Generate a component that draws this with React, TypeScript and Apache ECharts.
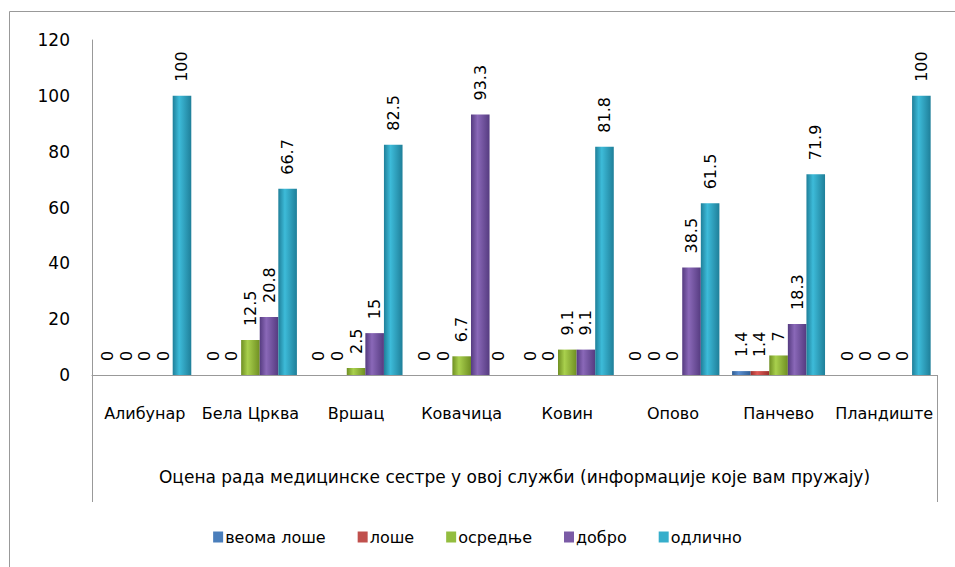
import React, { useEffect, useRef } from "react";
import * as echarts from "echarts";

const categories = ["Алибунар", "Бела Црква", "Вршац", "Ковачица", "Ковин", "Опово", "Панчево", "Пландиште"];
const seriesNames = ["веома лоше", "лоше", "осредње", "добро", "одлично"];
const veomaLose = [0, 0, 0, 0, 0, 0, 1.4, 0];
const lose = [0, 0, 0, 0, 0, 0, 1.4, 0];
const osrednje = [0, 12.5, 2.5, 6.7, 9.1, 0, 7, 0];
const dobro = [0, 20.8, 15, 93.3, 9.1, 38.5, 18.3, 0];
const odlicno = [100, 66.7, 82.5, 0, 81.8, 61.5, 71.9, 100];
const yTicks = [0, 20, 40, 60, 80, 100, 120];
const axisTitle = "Оцена рада медицинске сестре у овој служби (информације које вам пружају)";

const palette = [
  { dark: "#2f5d93", light: "#5b8fd0", legend: "#4a7ebb" },
  { dark: "#9a2f2c", light: "#e05a56", legend: "#c0504d" },
  { dark: "#6f8f22", light: "#a9d04d", legend: "#93bd3f" },
  { dark: "#553b80", light: "#8a68b8", legend: "#7b5ba6" },
  { dark: "#1f7f99", light: "#3dbbd9", legend: "#36aecb" },
];

const FONT = "'DejaVu Sans', sans-serif";

export default function App() {
  const ref = useRef<HTMLDivElement>(null);
  useEffect(() => {
    if (!ref.current) return;
    const chart = echarts.init(ref.current, null, { renderer: "svg" });
    const dataSets = [veomaLose, lose, osrednje, dobro, odlicno];
    const series = dataSets.map((d, i) => ({
      type: "bar",
      name: seriesNames[i],
      data: d,
      barGap: "0%",
      barCategoryGap: "12%",
      itemStyle: {
        color: new echarts.graphic.LinearGradient(0, 0, 1, 0, [
          { offset: 0, color: palette[i].dark },
          { offset: 0.35, color: palette[i].light },
          { offset: 1, color: palette[i].dark },
        ]),
      },
      label: {
        show: true,
        position: "top",
        rotate: 90,
        align: "left",
        verticalAlign: "middle",
        distance: 14,
        color: "#000",
        fontSize: 16,
        fontFamily: FONT,
        formatter: (p: any) => String(p.value),
      },
    }));
    chart.setOption({
      animation: false,
      backgroundColor: "#fff",
      grid: { left: 92, right: 18, top: 40, bottom: 192, containLabel: false },
      legend: {
        bottom: 17,
        left: "center",
        itemWidth: 10,
        itemHeight: 11,
        itemGap: 32,
        icon: "rect",
        data: seriesNames.map((n, i) => ({ name: n, itemStyle: { color: palette[i].legend } })),
        textStyle: { fontSize: 16, fontFamily: FONT, color: "#000", padding: [0, 0, 0, -3] },
      },
      xAxis: {
        type: "category",
        data: categories,
        axisLine: { lineStyle: { color: "#999", width: 1 } },
        axisTick: { show: false },
        axisLabel: { color: "#000", fontSize: 16, fontFamily: FONT, margin: 30, interval: 0 },
        name: axisTitle,
        nameLocation: "middle",
        nameGap: 93,
        nameTextStyle: { color: "#000", fontSize: 17, fontFamily: FONT },
      },
      yAxis: {
        type: "value",
        min: 0,
        max: 120,
        interval: 20,
        axisLine: { show: true, lineStyle: { color: "#999", width: 1 } },
        axisTick: { show: false },
        splitLine: { show: false },
        axisLabel: {
          color: "#000",
          fontSize: 17,
          fontFamily: FONT,
          margin: 22,
          formatter: (v: number) => (yTicks.includes(v) ? String(v) : ""),
        },
      },
      graphic: [
        { type: "rect", shape: { x: 9.5, y: 11.5, width: 1000, height: 600 }, style: { fill: "none", stroke: "#999", lineWidth: 1 }, silent: true },
        { type: "line", shape: { x1: 92.5, y1: 375, x2: 92.5, y2: 502 }, style: { stroke: "#999", lineWidth: 1 } },
        { type: "line", shape: { x1: 937.5, y1: 375, x2: 937.5, y2: 502 }, style: { stroke: "#999", lineWidth: 1 } },
      ],
      series,
    });
    return () => chart.dispose();
  }, []);
  return <div ref={ref} style={{ width: 955, height: 567, position: "absolute", left: 0, top: 0 }} />;
}
